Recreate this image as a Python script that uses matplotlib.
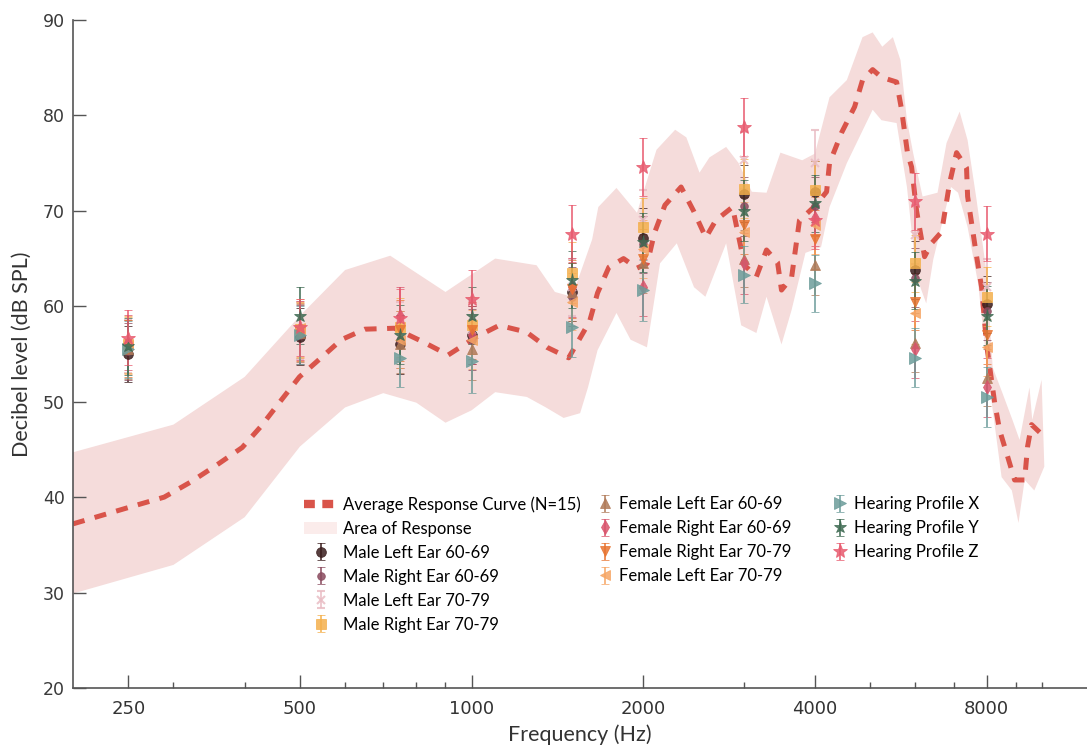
import matplotlib
matplotlib.use("Agg")
import matplotlib.pyplot as plt
from matplotlib.lines import Line2D
from matplotlib.patches import Patch
from matplotlib.ticker import FixedLocator, NullFormatter

# ---------------- data ----------------
curve_freq = [200, 253, 289, 322, 358, 396, 427, 460, 499, 547, 591, 650, 732, 820, 910,
              1020, 1118, 1248, 1356, 1480, 1610, 1663, 1741, 1847, 1950, 2033, 2093, 2183,
              2330, 2455, 2575, 2680, 2868, 3011, 3158, 3290, 3440, 3495, 3640, 3758, 4000,
              4193, 4243, 4455, 4695, 4848, 5050, 5233, 5563, 5676, 5815, 5910, 6030, 6228,
              6404, 6672, 6890, 7087, 7378, 7410, 7685, 7840, 8000, 8265, 8433, 8675, 8958,
              9328, 9440, 9593, 9910]
curve_db = [37.2, 39.0, 40.0, 41.6, 43.4, 45.2, 47.4, 49.9, 52.6, 54.7, 56.5, 57.6, 57.7, 56.3, 54.9,
            56.8, 58.0, 57.3, 55.7, 54.6, 58.4, 61.4, 64.1, 65.0, 64.0, 64.5, 67.7, 70.6,
            72.5, 69.9, 67.2, 69.0, 70.4, 64.3, 63.1, 65.9, 64.6, 61.7, 63.0, 69.0, 70.5,
            72.0, 75.0, 78.2, 80.9, 83.7, 84.8, 84.0, 83.5, 80.6, 76.0, 74.6, 70.0, 65.2,
            66.6, 67.8, 72.9, 76.1, 74.5, 71.5, 65.2, 62.0, 56.0, 49.9, 47.0, 44.6, 41.8,
            41.8, 45.3, 47.6, 46.8]

band_up_freq = [200, 300, 400, 500, 600, 720, 900, 1100, 1300, 1400, 1500, 1627, 1668, 1795,
                1950, 2110, 2275, 2380, 2510, 2613, 2795, 2940, 3100, 3290, 3480, 3800, 4000,
                4243, 4550, 4848, 5050, 5250, 5480, 5650, 5800, 5950, 6178, 6563, 6805, 7175,
                7410, 7685, 8000, 8200, 8530, 8880, 9140, 9513, 9620, 9990]
band_up = [44.7, 47.6, 52.6, 59.0, 63.8, 65.3, 61.5, 65.0, 64.3, 61.5, 61.0, 67.0, 70.4, 72.4,
           69.8, 76.4, 78.5, 77.7, 74.0, 75.6, 76.7, 75.0, 72.0, 71.9, 76.1, 75.3, 76.0,
           81.9, 83.7, 88.2, 88.7, 87.2, 88.2, 85.8, 79.5, 76.0, 71.5, 71.9, 77.1, 80.4,
           77.4, 71.1, 63.5, 53.6, 50.9, 48.1, 46.0, 51.5, 48.1, 52.3]

band_lo_freq = [200, 300, 400, 500, 600, 700, 800, 900, 1000, 1100, 1250, 1350, 1450, 1550,
                1600, 1663, 1795, 1900, 2030, 2140, 2290, 2455, 2570, 2795, 2970, 3158, 3290,
                3495, 3640, 3850, 4100, 4243, 4550, 5050, 5233, 5563, 5800, 6030, 6270, 6450,
                6930, 7130, 7410, 7730, 8040, 8500, 8860, 9100, 9330, 9700, 10100]
band_lo = [29.9, 32.9, 37.9, 45.3, 49.4, 50.9, 49.9, 47.8, 49.1, 51.0, 50.5, 49.4, 48.3, 48.8,
           51.5, 55.4, 59.3, 56.5, 55.7, 64.5, 66.6, 62.0, 61.0, 66.6, 58.0, 57.2, 61.0,
           56.0, 59.6, 65.6, 66.2, 70.4, 75.0, 80.6, 79.5, 79.2, 72.5, 63.1, 60.3, 64.9,
           72.5, 71.9, 68.3, 62.4, 53.0, 42.1, 40.7, 37.3, 41.8, 40.7, 43.2]

test_freqs = [250, 500, 750, 1000, 1500, 2000, 3000, 4000, 6000, 8000]

male_left_60 = [55.0, 56.8, 56.0, 57.0, 61.5, 67.2, 71.8, 72.0, 63.8, 60.2]
male_right_60 = [55.3, 57.0, 56.5, 56.5, 61.0, 66.5, 70.5, 70.5, 63.0, 59.5]
male_left_70 = [55.8, 57.5, 57.5, 57.5, 62.0, 69.0, 75.3, 75.0, 67.5, 62.0]
male_right_70 = [56.0, 57.6, 57.8, 58.0, 63.5, 68.3, 72.3, 72.2, 64.5, 61.0]
female_left_60 = [55.5, 57.2, 56.0, 55.5, 61.5, 64.5, 65.0, 64.3, 56.2, 52.5]
female_right_60 = [56.2, 57.5, 59.0, 57.0, 62.0, 62.0, 64.5, 69.3, 55.5, 51.5]
female_right_70 = [55.6, 57.3, 57.5, 57.5, 61.8, 65.0, 68.5, 67.0, 60.5, 57.0]
female_left_70 = [55.9, 57.7, 56.5, 56.5, 60.5, 66.0, 67.8, 68.5, 59.3, 55.7]
profile_x = [55.5, 57.0, 54.6, 54.3, 57.8, 61.7, 63.3, 62.4, 54.6, 50.5]
profile_y = [55.8, 59.0, 57.0, 59.0, 62.8, 66.7, 70.0, 70.8, 62.7, 59.0]
profile_z = [56.7, 57.8, 58.8, 60.8, 67.6, 74.6, 78.8, 69.0, 71.0, 67.6]

err_male_left_60 = [2.9, 3.0, 3.1, 3.0, 3.0, 3.1, 3.0, 3.2, 3.0, 3.0]
err_male_right_60 = [3.0, 3.1, 3.0, 3.2, 3.1, 3.0, 3.1, 3.0, 3.1, 3.0]
err_male_left_70 = [2.8, 3.0, 3.0, 3.1, 3.0, 3.2, 3.0, 3.5, 3.1, 3.0]
err_male_right_70 = [3.0, 2.9, 3.1, 3.0, 3.2, 3.0, 3.1, 3.0, 3.0, 3.1]
err_female_left_60 = [3.1, 3.0, 3.0, 3.2, 3.0, 3.1, 3.0, 3.1, 3.1, 3.0]
err_female_right_60 = [2.9, 3.1, 3.0, 3.0, 3.1, 3.0, 3.2, 3.0, 3.0, 3.1]
err_female_right_70 = [3.0, 3.0, 3.2, 3.0, 3.0, 3.1, 3.0, 3.1, 3.0, 3.0]
err_female_left_70 = [3.0, 3.1, 3.0, 3.1, 3.0, 3.0, 3.1, 3.0, 3.2, 3.0]
err_profile_x = [3.0, 3.0, 3.1, 3.4, 3.1, 3.2, 3.0, 3.0, 3.1, 3.1]
err_profile_y = [3.0, 3.0, 3.1, 3.0, 3.0, 3.1, 3.2, 3.0, 3.0, 3.1]
err_profile_z = [2.9, 3.0, 3.0, 3.0, 3.0, 3.0, 3.0, 3.0, 3.0, 2.9]

series_labels = ["Male Left Ear 60-69", "Male Right Ear 60-69", "Male Left Ear 70-79",
                 "Male Right Ear 70-79", "Female Left Ear 60-69", "Female Right Ear 60-69",
                 "Female Right Ear 70-79", "Female Left Ear 70-79", "Hearing Profile X",
                 "Hearing Profile Y", "Hearing Profile Z"]

major_ticks = [250, 500, 1000, 2000, 4000, 8000]
major_labels = ["250", "500", "1000", "2000", "4000", "8000"]
minor_ticks = [300, 400, 600, 700, 800, 900, 3000, 5000, 6000, 7000, 9000, 10000]
y_ticks = [20, 30, 40, 50, 60, 70, 80, 90]

# ---------------- style ----------------
series_values = [male_left_60, male_right_60, male_left_70, male_right_70, female_left_60,
                 female_right_60, female_right_70, female_left_70, profile_x, profile_y, profile_z]
series_errs = [err_male_left_60, err_male_right_60, err_male_left_70, err_male_right_70,
               err_female_left_60, err_female_right_60, err_female_right_70, err_female_left_70,
               err_profile_x, err_profile_y, err_profile_z]
colors = ["#3b1e1e", "#8a4a5e", "#e9bcc4", "#f4b04c", "#b07a58", "#d9546c",
          "#e87430", "#f6a563", "#6c9c9a", "#3e6a52", "#e85a6e"]
markers = ["o", "o", "x", "s", "^", "d", "v", "<", ">", "*", "*"]
msizes = [7, 5.5, 6, 6.5, 7, 7, 7.5, 7.5, 8.5, 9.5, 10]

curve_color = "#d9544a"
band_color = "#f5dcdb"
text_font = ["Lato", "DejaVu Sans"]

fig = plt.figure(figsize=(10.87, 7.49), dpi=100)
ax = fig.add_axes([73 / 1087, 61 / 749, (1087 - 73) / 1087, (688 - 20) / 749])

# band polygon
poly_x = list(band_up_freq) + list(reversed(band_lo_freq))
poly_y = list(band_up) + list(reversed(band_lo))
ax.fill(poly_x, poly_y, color=band_color, lw=0, zorder=1)

ax.plot(curve_freq, curve_db, color=curve_color, lw=3.6, ls=(0, (2.4, 2.1)),
        solid_capstyle="butt", dash_capstyle="butt", zorder=2)

containers = []
for vals, errs, c, m, ms in zip(series_values, series_errs, colors, markers, msizes):
    cont = ax.errorbar(test_freqs, vals, yerr=errs, fmt=m, color=c, ms=ms,
                       mec=c, mfc=c, mew=1.5 if m == "x" else 0.6, elinewidth=1.3,
                       capsize=3, capthick=1.3, alpha=0.85, zorder=3)
    containers.append(cont)

ax.set_xscale("log")
ax.set_xlim(200, 12000)
ax.set_ylim(20, 90)
ax.xaxis.set_major_locator(FixedLocator(major_ticks))
ax.xaxis.set_minor_locator(FixedLocator(minor_ticks))
ax.xaxis.set_minor_formatter(NullFormatter())
ax.set_xticklabels(major_labels, family=["Liberation Sans Narrow", "DejaVu Sans"],
                   fontsize=13, color="#333333")
ax.set_yticks(y_ticks)
ax.set_yticklabels([str(v) for v in y_ticks], family="DejaVu Sans", fontsize=12.5,
                   color="#3a3a3a")

for s in ["top", "right"]:
    ax.spines[s].set_visible(False)
for s in ["left", "bottom"]:
    ax.spines[s].set_color("#555555")
    ax.spines[s].set_linewidth(1.2)
ax.tick_params(axis="x", which="major", direction="in", length=9.5, width=1, color="#555555", pad=9)
ax.tick_params(axis="x", which="minor", direction="in", length=4.5, width=1, color="#555555")
ax.tick_params(axis="y", which="major", direction="in", length=9, width=1, color="#555555", pad=6)

ax.set_xlabel("Frequency (Hz)", family=text_font, fontsize=15.5, color="#333333", labelpad=4)
ax.set_ylabel("Decibel level (dB SPL)", family=text_font, fontsize=15.5, color="#333333", labelpad=8)

# legends
curve_handle = Line2D([], [], color=curve_color, lw=6, ls=(0, (1.3, 0.9)))
area_handle = Patch(facecolor="#fbeceb", edgecolor="none")
leg_font = {"family": text_font, "size": 12}
leg_top = 1 - 496 / 749
common = dict(loc="upper left", frameon=False, prop=leg_font, labelspacing=0.48,
              borderpad=0, borderaxespad=0, handletextpad=0.35)

leg1 = fig.legend([curve_handle, area_handle] + containers[0:4],
                  ["Average Response Curve (N=15)", "Area of Response"] + series_labels[0:4],
                  bbox_to_anchor=(304 / 1087, leg_top), handlelength=2.0, **common)
leg2 = fig.legend(containers[4:8], series_labels[4:8],
                  bbox_to_anchor=(597 / 1087, leg_top), handlelength=1.0, **common)
leg3 = fig.legend(containers[8:11], series_labels[8:11],
                  bbox_to_anchor=(832 / 1087, leg_top), handlelength=1.0, **common)

fig.savefig("out.png", dpi=100)
